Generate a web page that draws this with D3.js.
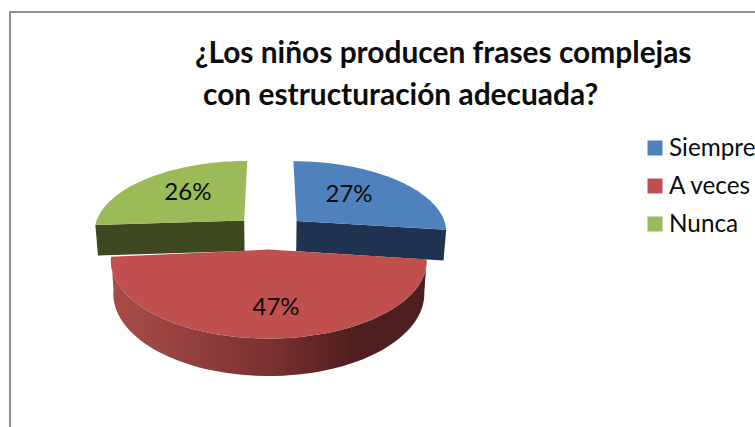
<!DOCTYPE html>
<html><head><meta charset="utf-8">
<script src="https://cdn.jsdelivr.net/npm/d3@7"></script>
<style>html,body{margin:0;padding:0;background:#fff;overflow:hidden}svg{display:block}text{font-family:Lato,sans-serif;fill:#0c0c0c}</style>
</head><body><svg id="c" width="755" height="427"></svg>
<script>
const titleLines = ["¿Los niños producen frases complejas", "con estructuración adecuada?"];
const categories = ["Siempre", "A veces", "Nunca"];
const values = [27, 47, 26];
const colors = ["#4f81bd", "#c0504d", "#9bbb59"];
const faceColors = ["#1f3350", null, "#3f4921"];
const labelShift = [-16, 11, 10];

// layout of the perspective plane
const cx = 270, y0 = 232, R = 151, Q = 71, P = 0.14, E = 0.24, H = 31, labelR = 0.67;
const frontTilt = 0.03; // the front slice's left corner sits a little lower in the picture
const svg = d3.select("#c");

const defs = svg.append("defs");
const grad = defs.append("linearGradient").attr("id", "side").attr("gradientUnits", "userSpaceOnUse")
  .attr("x1", 112).attr("x2", 430).attr("y1", 0).attr("y2", 0);
[[0, "#a84a47"], [0.12, "#9f4644"], [0.5, "#7a3130"], [0.75, "#4f1f1e"], [1, "#4c1f1e"]]
  .forEach(([o, c]) => grad.append("stop").attr("offset", o).attr("stop-color", c));

const project = (X, Y, down = 0) => {
  const s = 1 / (1 - P * Y);
  const k = down ? 0.985 : 1;
  return [cx + R * X * s * k, y0 + Q * Y * s + down * H * s];
};
const line = d3.line();
const arcs = d3.pie().sort(null).value(d => d)(values);

arcs.forEach(a => { a.mid = (a.startAngle + a.endAngle) / 2;
  a.ox = E * Math.sin(a.mid); a.oy = -E * Math.cos(a.mid); });
const rim = (a, t, down = 0, r = 1) =>
  project(a.ox + r * Math.sin(t), a.oy - r * Math.cos(t), down);
const apex = (a, down = 0) => project(a.ox, a.oy, down);
const rimPts = (a, down = 0, trim = 0) =>
  d3.range(0, 61).map(i => rim(a, a.startAngle + (a.endAngle - trim - a.startAngle) * i / 60, down));

// border
svg.append("path").attr("fill", "none").attr("stroke", "#8e8e8e").attr("stroke-width", 2)
  .attr("d", "M10,427V12H755");

// back slices first, red one last
[2, 0, 1].forEach(i => {
  const a = arcs[i], g = svg.append("g");
  const trim = i === 1 ? frontTilt : 0;
  if (i === 1) {
    g.append("path").attr("fill", "url(#side)")
      .attr("d", line(rimPts(a, 0, trim).concat(rimPts(a, 1, trim).reverse())) + "Z");
  } else {
    const t = i === 0 ? a.endAngle : a.startAngle;
    g.append("path").attr("fill", faceColors[i])
      .attr("d", line([apex(a), rim(a, t), rim(a, t, 1), apex(a, 1)]) + "Z");
  }
  g.append("path").attr("fill", colors[i])
    .attr("d", line([apex(a), ...rimPts(a, 0, trim)]) + "Z");
});

// value labels
arcs.forEach((a, i) => {
  const p = rim(a, a.mid, 0, labelR);
  svg.append("text").attr("x", p[0] + labelShift[i]).attr("y", p[1] + 9)
    .attr("text-anchor", "middle").attr("font-size", 24).text(values[i] + "%");
});

// title
const titleX = [195, 203], titleY = [63, 105];
titleLines.forEach((t, i) => svg.append("text").attr("x", titleX[i]).attr("y", titleY[i])
  .attr("font-size", 29.9).attr("font-weight", 700).text(t));

// legend
const legend = d3.scaleBand().domain(categories).range([129, 243]);
categories.forEach((c, i) => {
  const y = legend(c) + legend.bandwidth() / 2;
  svg.append("rect").attr("x", 647.5).attr("y", y - 7.5).attr("width", 15).attr("height", 15).attr("fill", colors[i]);
  svg.append("text").attr("x", 669).attr("y", y + 8).attr("font-size", 24.3).text(c);
});
</script></body></html>
